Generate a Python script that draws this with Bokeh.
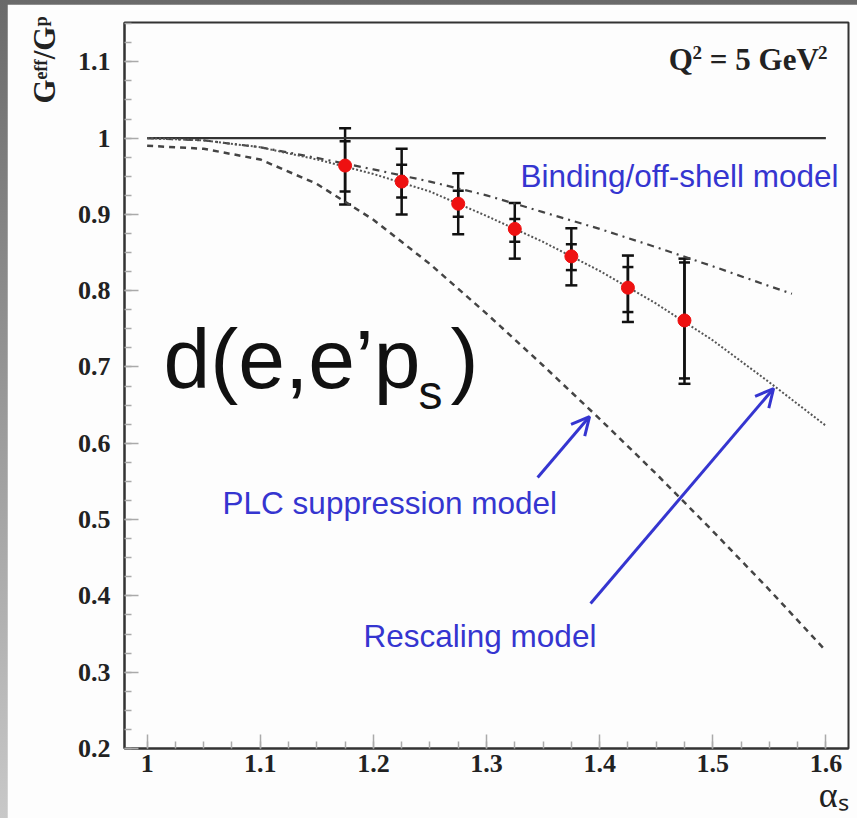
import numpy as np
from bokeh.plotting import figure
from bokeh.models import (Range1d, FixedTicker, Whisker, TeeHead, ColumnDataSource,
                          Label, Arrow, OpenHead, Title)
from bokeh.layouts import column
from bokeh.embed import file_html
from bokeh.resources import INLINE

# ---------------- data ----------------
alpha_s = [1.175, 1.225, 1.275, 1.325, 1.375, 1.425, 1.475]
ratio = [0.964, 0.943, 0.914, 0.881, 0.845, 0.804, 0.761]
total_hi = [1.013, 0.986, 0.954, 0.915, 0.882, 0.846, 0.842]
total_lo = [0.913, 0.900, 0.874, 0.842, 0.807, 0.759, 0.678]
stat_hi = [0.996, 0.965, 0.931, 0.894, 0.861, 0.831, 0.837]
stat_lo = [0.930, 0.922, 0.897, 0.864, 0.827, 0.772, 0.685]

curve_x = [1.0, 1.05, 1.1, 1.15, 1.2, 1.25, 1.3, 1.35, 1.4, 1.45, 1.5, 1.55, 1.6]
rescaling_y = [1.0, 0.997, 0.988, 0.972, 0.953, 0.930, 0.898, 0.864, 0.826, 0.783, 0.735, 0.680, 0.623]
plc_y = [0.990, 0.986, 0.972, 0.940, 0.893, 0.835, 0.770, 0.702, 0.632, 0.560, 0.485, 0.408, 0.328]
binding_x = [1.0, 1.05, 1.1, 1.15, 1.2, 1.25, 1.3, 1.35, 1.4, 1.45, 1.5, 1.55, 1.57]
binding_y = [1.0, 0.997, 0.988, 0.974, 0.959, 0.943, 0.925, 0.903, 0.881, 0.857, 0.832, 0.806, 0.796]
unity_x = [1.0, 1.6]
unity_y = [1.0, 1.0]

x_ticks = [1.0, 1.1, 1.2, 1.3, 1.4, 1.5, 1.6]
x_tick_labels = ["1", "1.1", "1.2", "1.3", "1.4", "1.5", "1.6"]
y_ticks = [0.2, 0.3, 0.4, 0.5, 0.6, 0.7, 0.8, 0.9, 1.0, 1.1]
y_tick_labels = ["0.2", "0.3", "0.4", "0.5", "0.6", "0.7", "0.8", "0.9", "1", "1.1"]

# ---------------- figure ----------------
AX = "#333333"
BLUE = "#3535d0"
SERIF = "Liberation Serif"
SANS = "Liberation Sans"
NB = "\u00a0"

p = figure(width=850, height=814, output_backend="svg", toolbar_location=None,
           x_range=Range1d(0.98, 1.62), y_range=Range1d(0.2, 1.1515),
           min_border_left=117, min_border_right=9, min_border_top=18, min_border_bottom=70)
p.background_fill_color = "#fdfdfd"
p.border_fill_color = "#fdfdfd"
p.outline_line_color = AX
p.outline_line_width = 2
p.grid.visible = False

p.xaxis.ticker = FixedTicker(ticks=x_ticks, minor_ticks=list(np.round(np.arange(1.0, 1.62, 0.025), 3)))
p.yaxis.ticker = FixedTicker(ticks=y_ticks, minor_ticks=list(np.round(np.arange(0.2, 1.16, 0.025), 3)))
p.xaxis.major_label_overrides = {t: l for t, l in zip(x_ticks, x_tick_labels)}
p.yaxis.major_label_overrides = {t: l for t, l in zip(y_ticks, y_tick_labels)}
for ax in (p.xaxis, p.yaxis):
    ax.axis_line_color = AX
    ax.axis_line_width = 2
    ax.major_tick_in = 14
    ax.major_tick_out = 0
    ax.minor_tick_in = 7
    ax.minor_tick_out = 0
    ax.major_tick_line_color = "#aaaaaa"
    ax.minor_tick_line_color = "#aaaaaa"
    ax.major_tick_line_width = 1.5
    ax.minor_tick_line_width = 1.5
    ax.major_label_text_font = SERIF
    ax.major_label_text_font_style = "bold"
    ax.major_label_text_font_size = "26px"
    ax.major_label_text_color = "#222222"
p.xaxis.major_label_standoff = 6
p.yaxis.major_label_standoff = 14

# axis titles as side titles aligned to the axis ends
p.add_layout(Title(text="Gᵉᶠᶠ/Gᵖ", align="right", text_font=SERIF, text_font_style="bold",
                   text_font_size="31px", text_color="#222222", offset=-6, standoff=26), "left")
p.add_layout(Title(text="αₛ", align="right", text_font=SERIF, text_font_style="normal",
                   text_font_size="36px", text_color="#222222", standoff=-3), "below")

# curves
p.line(unity_x, unity_y, line_color=AX, line_width=2.2)
p.line(binding_x, binding_y, line_color="#444444", line_width=2.2, line_dash="7 5 2 5")
p.line(curve_x, rescaling_y, line_color="#555555", line_width=2, line_dash="2 2")
p.line(curve_x, plc_y, line_color="#444444", line_width=2.5, line_dash="6 5")

# error bars
src = ColumnDataSource(dict(x=alpha_s, y=ratio, thi=total_hi, tlo=total_lo, shi=stat_hi, slo=stat_lo))
p.add_layout(Whisker(source=src, base="x", upper="thi", lower="tlo", dimension="height",
                     line_color="#111111", line_width=2.5,
                     upper_head=TeeHead(size=12, line_color="#111111", line_width=2.5),
                     lower_head=TeeHead(size=12, line_color="#111111", line_width=2.5)))
p.add_layout(Whisker(source=src, base="x", upper="shi", lower="slo", dimension="height",
                     line_color="#111111", line_width=2.5,
                     upper_head=TeeHead(size=11, line_color="#111111", line_width=2.5),
                     lower_head=TeeHead(size=11, line_color="#111111", line_width=2.5)))
p.scatter("x", "y", source=src, size=13, fill_color="#ee1111", line_color="#ee1111")

# Q^2 label, composed so the superscripts are large
for txt, xx, yy, fs in [("Q", 1.4610, 1.1028, "31px"), ("2", 1.4822, 1.1117, "19px"),
                        (NB + "=" + NB + "5" + NB + "GeV", 1.4906, 1.1028, "31px"),
                        ("2", 1.5930, 1.1117, "19px")]:
    p.add_layout(Label(x=xx, y=yy, text=txt, text_font=SERIF, text_font_style="bold",
                       text_font_size=fs, text_color="#222222", text_align="left",
                       text_baseline="alphabetic"))

# reaction label d(e,e'p_s)
p.add_layout(Label(x=1.0145, y=0.7111, text="d(e,e’p", text_font=SANS, text_font_size="84px",
                   text_color="#111111", text_baseline="alphabetic"))
p.add_layout(Label(x=1.2399, y=0.667, text="s", text_font=SANS, text_font_size="48px",
                   text_color="#111111", text_baseline="alphabetic"))
p.add_layout(Label(x=1.2682, y=0.7111, text=")", text_font=SANS, text_font_size="84px",
                   text_color="#111111", text_baseline="alphabetic"))

# model labels
for txt, xx, yy in [("Binding/off-shell model", 1.3300, 0.9500),
                    ("PLC suppression model", 1.0667, 0.5211),
                    ("Rescaling model", 1.1913, 0.3468)]:
    p.add_layout(Label(x=xx, y=yy, text=txt, text_font=SANS, text_font_size="31.5px",
                       text_color=BLUE, text_baseline="alphabetic"))

# arrows
for xs, ys, xe, ye in [(1.3452, 0.5552, 1.3911, 0.6351), (1.392, 0.390, 1.5538, 0.6718)]:
    p.add_layout(Arrow(x_start=xs, y_start=ys, x_end=xe, y_end=ye, line_color=BLUE, line_width=3,
                       end=OpenHead(size=18, line_color=BLUE, line_width=3)))

layout = column(p, styles={"padding-top": "4px", "padding-left": "7px",
                           "background": "linear-gradient(#6a6a6a, #c8c8c8)"})

open("out.html", "w").write(file_html(layout, INLINE))
